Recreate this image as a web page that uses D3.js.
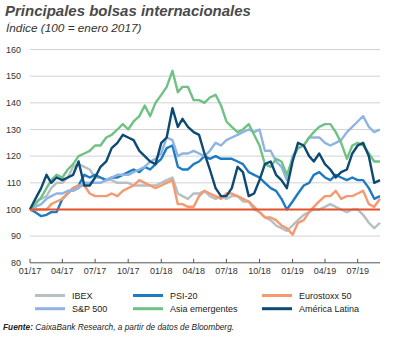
<!DOCTYPE html>
<html><head><meta charset="utf-8">
<script src="https://cdn.jsdelivr.net/npm/d3@7/dist/d3.min.js"></script>
<style>
body{margin:0;background:#fff;}
svg{display:block;font-family:"Liberation Sans",Arial,sans-serif;}
</style></head>
<body><svg id="c" width="397" height="338"></svg>
<script>
// semi-monthly observation dates (1st and 16th of each month), Jan 2017 – Sep 2019
const dates = [];
for (let y = 2017; y <= 2019; y++) for (let m = 0; m < 12; m++) {
  if (y === 2019 && m > 7) break;
  dates.push(new Date(y, m, 1)); dates.push(new Date(y, m, 16));
}
dates.push(new Date(2019, 8, 1));

const ibex = [100,103,104,105,108,110,110,112,116,117,116,115,112,112,111,111,110,110,110,109,109,109,109,109,110,111,112,106,105,104,106,106,107,105,104,105,104,105,105,103,103,100,99,97,96,94,93,92,94,96,98,99,100,100,101,102,101,100,99,100,100,98,95,93,95];
const psi = [100,99,97.5,98,99,99,104,106,108,109,113,112,113,112,111,112,112,113,114,115,114,116,115,117,119,123,124,116,115,115,117,118,120,119,120,119,119,119,118,117,114,113,112,110,108,107,104,100,103,106,109,110,113,114,112,111,113,112,111,112,111,111,108,104,105];
const euro = [100,100,100,100,102,103,104,106,108,109,109,106,105,105,105,106,105,107,108,109,111,110,109,108,109,110,111,102,102,101,101,105,107,106,105,104,106,106,105,104,103,101,99,97,97,96,94,93,90.5,95,96,99,101,103,105,105,107,104,105,105,106,107,102,101,104];
const sp500 = [100,101,102,104,105,106,106,107,107,108,110,110,110,110,111,112,113,113,113,114,115,116,118,119,121,127,126,120,121,121,122,121,120,122,125,124,126,127,128,129,130,129,130,122,122,118,116,111,120,123,124,127,127,127,125,124,125,126,129,131,133,135,131,129,130];
const asia = [100,102,104.5,108,111,113,112,115,117,120,121,122,124,124,127,128,130,132,130,133,135,139,135,140,143,146,152,144,146,146,141,141,140,142,143,139,133,131,129,130,132,128,124,117,116,119,118,113,119,123,124,127,129,131,132,132,129,125,119,124,125,124,121,118,118];
const latam = [100,104,108,113,110,112,111,112,113,118,109,109,112,116,118,123,125,128,127,126,122,120,118,117,125,127,138,131,134,131,129,128,121,115,108,105,105,108,116,114,105,106,111,117,118,113,111,108,118,125,124,120,118,121,117,115,112,114,115,121,124,125,120,110,111];

const seriesNames = ["IBEX","PSI-20","Eurostoxx 50","S&P 500","Asia emergentes","América Latina"];
const seriesValues = [ibex, psi, euro, sp500, asia, latam];
const seriesColors = ["#b6bfc2","#1c7bc3","#f59a70","#8fb4e3","#70c184","#0c4a73"];
const yTicks = [80,90,100,110,120,130,140,150,160];
const xTickLabels = ["01/17","04/17","07/17","10/17","01/18","04/18","07/18","10/18","01/19","04/19","07/19"];

const svg = d3.select("#c");
const x = d3.scaleTime().domain([new Date(2017,0,1), new Date(2019,8,1)]).range([30,380]);
const y = d3.scaleLinear().domain([80,160]).range([262.8,49.5]);

// title
svg.append("text").attr("x",5).attr("y",16).attr("font-size",15).attr("font-weight","bold")
  .attr("font-style","italic").attr("fill","#4a4a4a").text("Principales bolsas internacionales");
svg.append("text").attr("x",6).attr("y",32).attr("font-size",11.8).attr("font-style","italic")
  .attr("fill","#333").text("Índice (100 = enero 2017)");

// gridlines
svg.append("g").selectAll("line").data(yTicks.filter(d=>d>80)).join("line")
  .attr("x1",30).attr("x2",380).attr("y1",d=>y(d)).attr("y2",d=>y(d))
  .attr("stroke","#d2d2d2").attr("stroke-width",1);

// y labels
svg.append("g").selectAll("text").data(yTicks).join("text")
  .attr("x",21).attr("y",d=>y(d)+3.2).attr("text-anchor","end").attr("font-size",9).attr("fill","#333")
  .text(d=>d);

// x axis
const tickDates = xTickLabels.map(s=>{const [m,yy]=s.split("/");return new Date(2000+ +yy, +m-1, 1);});
svg.append("line").attr("x1",30).attr("x2",380).attr("y1",y(80)).attr("y2",y(80)).attr("stroke","#555").attr("stroke-width",1);
svg.append("g").selectAll("line").data(tickDates).join("line")
  .attr("x1",d=>x(d)).attr("x2",d=>x(d)).attr("y1",y(80)).attr("y2",y(80)-4).attr("stroke","#555");
svg.append("g").selectAll("text").data(tickDates).join("text")
  .attr("x",d=>x(d)).attr("y",273.5).attr("text-anchor","middle").attr("font-size",9).attr("fill","#333")
  .text((d,i)=>xTickLabels[i]);

// series
const line = d3.line().x((d,i)=>x(dates[i])).y(d=>y(d)).curve(d3.curveLinear);
seriesValues.forEach((vals,i)=>{
  svg.append("path").datum(vals).attr("d",line).attr("fill","none")
    .attr("stroke",seriesColors[i]).attr("stroke-width",2.4).attr("stroke-linejoin","round");
});

// 100 reference line
svg.append("line").attr("x1",30).attr("x2",380).attr("y1",y(100)).attr("y2",y(100))
  .attr("stroke","#e5512b").attr("stroke-width",2);

// legend
const legX = [35,133,262], legY = [295.5,308.7];
seriesNames.forEach((n,i)=>{
  const cx = legX[i%3], cy = legY[Math.floor(i/3)];
  svg.append("line").attr("x1",cx).attr("x2",cx+30).attr("y1",cy).attr("y2",cy)
    .attr("stroke",seriesColors[i]).attr("stroke-width",3);
  svg.append("text").attr("x",cx+37).attr("y",cy+3.2).attr("font-size",9).attr("fill","#222").text(n);
});

// source
const src = svg.append("text").attr("x",3).attr("y",330).attr("font-size",8.3).attr("font-style","italic").attr("fill","#222");
src.append("tspan").attr("font-weight","bold").text("Fuente:");
src.append("tspan").text(" CaixaBank Research, a partir de datos de Bloomberg.");
</script></body></html>
